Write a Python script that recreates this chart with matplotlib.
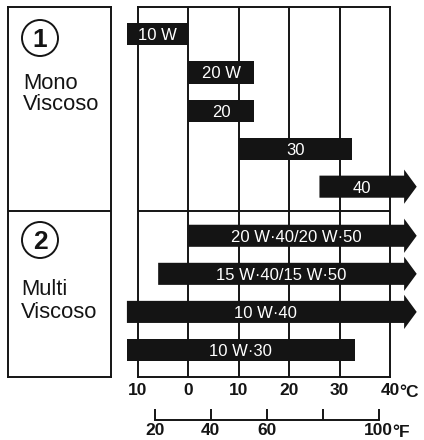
import matplotlib
matplotlib.use('Agg')
import matplotlib.pyplot as plt
from matplotlib.patches import Circle, FancyArrow
import matplotlib.transforms as mtrans
import numpy as np

plt.rcParams['font.family'] = ['Liberation Sans', 'DejaVu Sans']

# ---------------- data ----------------
mono_labels = ['10 W', '20 W', '20', '30', '40']
mono_start = [-12.2, 0, 0, 10, 26]
mono_end = [0, 13, 13, 32.5, 45.3]
mono_open = [False, False, False, False, True]

multi_labels = ['20 W·40/20 W·50', '15 W·40/15 W·50', '10 W·40', '10 W·30']
multi_start = [0, -6, -12.2, -12.2]
multi_end = [45.3, 45.3, 45.3, 33]
multi_open = [True, True, True, False]

celsius_ticks = [-10, 0, 10, 20, 30, 40]
celsius_labels = ['10', '0', '10', '20', '30', '40']
fahrenheit_ticks = [20, 40, 60, 80, 100]
fahrenheit_labels = ['20', '40', '60', '', '100']

group_numbers = ['1', '2']
group_lines = [['Mono', 'Viscoso'], ['Multi', 'Viscoso']]

# ---------------- layout ----------------
W, H = 424, 440
ink = '#141414'
lw = 1.4
fig = plt.figure(figsize=(W / 100, H / 100), dpi=100)
pix = mtrans.Affine2D().scale(1 / W, 1 / H) + fig.transFigure


def frac(x0, y_top, w, h):
    return [x0 / W, (H - y_top - h) / H, w / W, h / H]


ax = fig.add_axes(frac(138, 7, 252, 370))
axl = fig.add_axes(frac(8, 7, 103, 370))

gap = 1.29
mono_y = np.arange(len(mono_labels), dtype=float)
multi_y = mono_y[-1] + gap + np.arange(len(multi_labels))
divider = (mono_y[-1] + multi_y[0]) / 2
ylim = (multi_y[-1] + 0.71, -0.72)

bar_h = 0.58
head_w = 0.90
head_len = 2.5

rows = list(zip(mono_y, mono_start, mono_end, mono_open, mono_labels)) + \
       list(zip(multi_y, multi_start, multi_end, multi_open, multi_labels))

for y, s, e, op, lab in rows:
    if op:
        arr = FancyArrow(s, y, e - s, 0, width=bar_h, head_width=head_w,
                         head_length=head_len, length_includes_head=True,
                         color=ink, lw=0, zorder=3)
        arr.set_clip_on(False)
        ax.add_patch(arr)
        body_end = e - head_len
    else:
        b = ax.barh(y, e - s, left=s, height=bar_h, color=ink, zorder=3)
        b[0].set_clip_on(False)
        body_end = e
    ax.text((s + body_end) / 2, y, lab, color='white', ha='center',
            va='center_baseline', fontsize=12, zorder=4)

for t in celsius_ticks[1:-1]:
    ax.axvline(t, color=ink, lw=lw, zorder=1)
ax.axhline(divider, color=ink, lw=lw, zorder=1)

ax.set_xlim(celsius_ticks[0], celsius_ticks[-1])
ax.set_ylim(*ylim)
ax.set_yticks([])
ax.set_xticks(celsius_ticks, celsius_labels)
ax.tick_params(axis='x', length=0, pad=4, labelsize=12.5, colors=ink)
for lbl in ax.get_xticklabels():
    lbl.set_fontweight('bold')
for sp in ax.spines.values():
    sp.set_linewidth(lw)
    sp.set_color(ink)
ax.annotate('°C', xy=(celsius_ticks[-1], 0), xycoords=('data', 'axes fraction'),
            xytext=(9.5, -14), textcoords='offset pixels', ha='left',
            va='center_baseline', fontsize=12.5, fontweight='bold', color=ink)


def c2f(c):
    return np.asarray(c) * 9 / 5 + 32


def f2c(f):
    return (np.asarray(f) - 32) * 5 / 9


sec = ax.secondary_xaxis(-43 / 370, functions=(c2f, f2c))
sec.set_xticks(fahrenheit_ticks, fahrenheit_labels)
sec.tick_params(direction='in', length=8, width=lw, pad=2, labelsize=12.5,
                colors=ink)
for lbl in sec.get_xticklabels():
    lbl.set_fontweight('bold')
sec.spines['bottom'].set_bounds(fahrenheit_ticks[0], fahrenheit_ticks[-1])
sec.spines['bottom'].set_linewidth(lw)
sec.spines['bottom'].set_color(ink)
ax.annotate('°F', xy=(f2c(fahrenheit_ticks[-1]), 0),
            xycoords=('data', 'axes fraction'),
            xytext=(13.5, -54), textcoords='offset pixels', ha='left',
            va='center_baseline', fontsize=12.5, fontweight='bold', color=ink)

# left panel
axl.set_xlim(0, 1)
axl.set_ylim(*ylim)
axl.set_xticks([])
axl.set_yticks([])
for sp in axl.spines.values():
    sp.set_linewidth(lw)
    sp.set_color(ink)
axl.axhline(divider, color=ink, lw=lw)

group_pos = [dict(cy=38, base=47, lines=(89, 110), x=23),
             dict(cy=240, base=249, lines=(295, 318), x=21)]
for num, lines, p in zip(group_numbers, group_lines, group_pos):
    fig.add_artist(Circle((40, H - p['cy']), 18, transform=pix, fill=False,
                          ec=ink, lw=lw))
    fig.text(40, H - p['base'], num, transform=pix, ha='center', va='baseline',
             fontsize=19, fontweight='bold', color=ink)
    for txt, yb in zip(lines, p['lines']):
        fig.text(p['x'], H - yb, txt, transform=pix, ha='left', va='baseline',
                 fontsize=15.8, color=ink)

fig.savefig('out.png', dpi=100)
